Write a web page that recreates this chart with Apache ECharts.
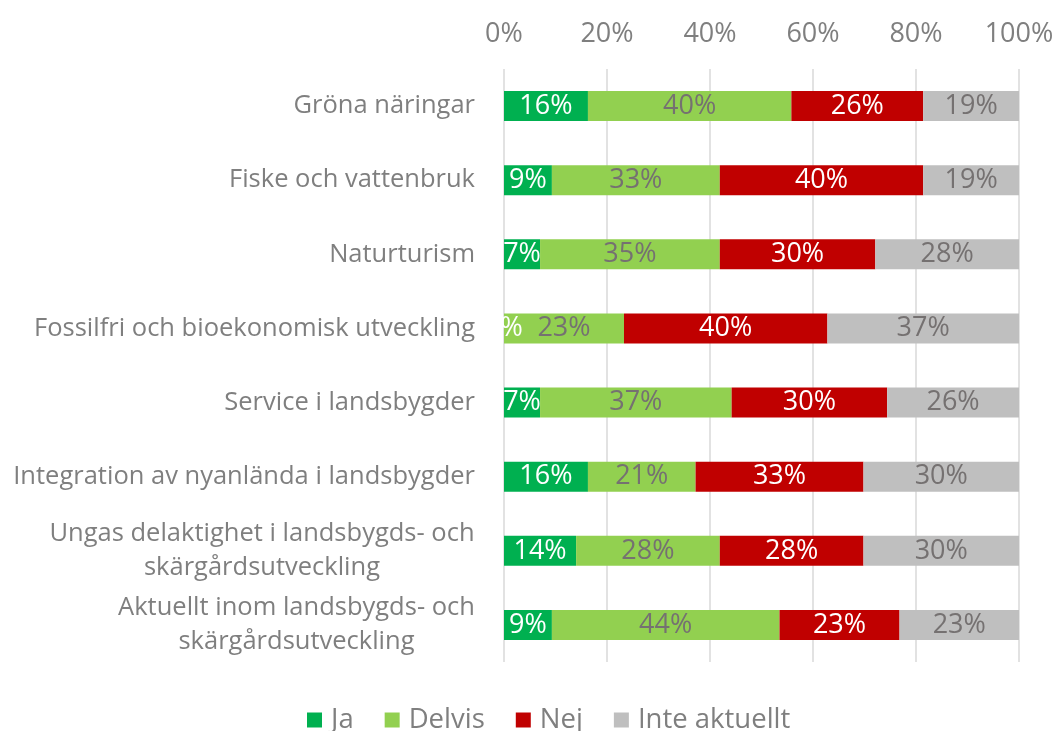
<!DOCTYPE html>
<html>
<head>
<meta charset="utf-8">
<script src="https://cdn.jsdelivr.net/npm/echarts@6/dist/echarts.min.js"></script>
<style>
  html, body { margin: 0; padding: 0; background: #fff; }
  #main { width: 1059px; height: 731px; }
</style>
</head>
<body>
<div id="main"></div>
<script>
// categories top to bottom
var categories = [
  'Gröna näringar',
  'Fiske och vattenbruk',
  'Naturturism',
  'Fossilfri och bioekonomisk utveckling',
  'Service i landsbygder',
  'Integration av nyanlända i landsbygder',
  'Ungas delaktighet i landsbygds- och\nskärgårdsutveckling',
  'Aktuellt inom landsbygds- och\nskärgårdsutveckling'
];
var tickLabels = ['0%', '20%', '40%', '60%', '80%', '100%'];

// shares in percent
var ja = [16.3, 9.3, 7.0, 0, 7.0, 16.3, 14.0, 9.3];
var delvis = [39.5, 32.6, 34.9, 23.3, 37.2, 20.9, 27.9, 44.2];
var nej = [25.6, 39.5, 30.2, 39.5, 30.2, 32.6, 27.9, 23.3];
var inteAktuellt = [18.6, 18.6, 27.9, 37.2, 25.6, 30.2, 30.2, 23.3];

var font = 'Open Sans';
var grayText = '#7f7f7f';
var catSize = 25.5;

// wrapped labels: centre the lines against each other, block stays right aligned
var ctx = document.createElement('canvas').getContext('2d');
ctx.font = catSize + 'px "' + font + '"';
var rich = {};
var catText = categories.map(function (c, i) {
  if (c.indexOf('\n') < 0) return c;
  var lines = c.split('\n');
  var w = Math.max.apply(null, lines.map(function (l) { return ctx.measureText(l).width; }));
  rich['c' + i] = { width: Math.ceil(w), align: 'center', fontFamily: font, fontSize: catSize, color: grayText, lineHeight: 34 };
  return lines.map(function (l) { return '{c' + i + '|' + l + '}'; }).join('\n');
});

function mkSeries(name, data, color, labelColor) {
  return {
    name: name,
    type: 'bar',
    stack: 'all',
    data: data,
    barWidth: 30,
    itemStyle: { color: color },
    label: {
      show: true,
      position: 'inside',
      color: labelColor,
      fontFamily: font,
      fontSize: 27,
      formatter: function (p) { return Math.round(p.value) + '%'; }
    }
  };
}

var chart = echarts.init(document.getElementById('main'));
chart.setOption({
  animation: false,
  backgroundColor: '#fff',
  grid: { left: 504, right: 40, top: 69, bottom: 69 },
  legend: {
    top: 701,
    left: 302,
    itemWidth: 15,
    itemHeight: 15,
    itemGap: 31,
    icon: 'rect',
    textStyle: { fontFamily: font, fontSize: 27.5, color: grayText, padding: [0, 0, 0, 4] },
    data: ['Ja', 'Delvis', 'Nej', 'Inte aktuellt']
  },
  xAxis: {
    type: 'value',
    position: 'top',
    min: 0,
    max: 100,
    interval: 20,
    axisLine: { show: false },
    axisTick: { show: false },
    splitLine: { lineStyle: { color: '#d9d9d9', width: 1.5 } },
    axisLabel: {
      fontFamily: font,
      fontSize: 27,
      color: grayText,
      margin: 21,
      formatter: function (v) { return tickLabels[v / 20]; }
    }
  },
  yAxis: {
    type: 'category',
    inverse: true,
    data: catText,
    axisLine: { show: false },
    axisTick: { show: false },
    axisLabel: {
      fontFamily: font,
      fontSize: catSize,
      color: grayText,
      margin: 29,
      lineHeight: 34,
      align: 'right',
      rich: rich
    }
  },
  series: [
    mkSeries('Ja', ja, '#00b050', '#ffffff'),
    mkSeries('Delvis', delvis, '#92d050', '#757171'),
    mkSeries('Nej', nej, '#c00000', '#ffffff'),
    mkSeries('Inte aktuellt', inteAktuellt, '#bfbfbf', '#757171')
  ]
});
</script>
</body>
</html>
